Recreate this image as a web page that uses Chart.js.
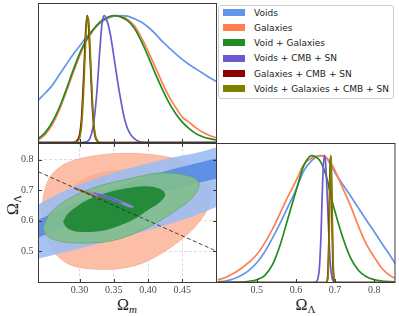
<!DOCTYPE html>
<html><head><meta charset="utf-8">
<script src="https://cdn.jsdelivr.net/npm/chart.js@4.4.1/dist/chart.umd.min.js"></script>
<style>
html,body{margin:0;padding:0;background:#fff;}
#wrap{position:relative;width:399px;height:316px;overflow:hidden;background:#fff;}
canvas{position:absolute;left:0;top:0;}
.lbl{position:absolute;font-family:'Liberation Serif','DejaVu Serif',serif;font-size:16px;line-height:16px;color:#222;white-space:nowrap;}
.lbl sub{font-size:11px;line-height:0;vertical-align:-3px;}
#legend{position:absolute;left:218px;top:5px;width:174px;height:92px;border:1px solid #cccccc;border-radius:3px;background:#fff;z-index:5;}
.patch{position:absolute;left:4px;width:22px;height:7px;}
.txt{position:absolute;left:35px;font-family:'DejaVu Sans',sans-serif;font-size:9px;line-height:10px;color:#222;white-space:nowrap;}
</style></head>
<body>
<div id="wrap">
  <div id="legend"></div>
  <div class="lbl" id="xlabM" style="left:127px;top:296.5px;transform:translateX(-50%);">Ω<sub><i>m</i></sub></div>
  <div class="lbl" id="xlabL" style="left:305.5px;top:296.5px;transform:translateX(-50%);">Ω<sub>Λ</sub></div>
  <div class="lbl" id="ylabL" style="left:12.5px;top:205px;transform:translate(-50%,-50%) rotate(-90deg);">Ω<sub>Λ</sub></div>
</div>
<script>
// ---------------- DATA ----------------
const seriesNames = ['Voids','Galaxies','Void + Galaxies','Voids + CMB + SN','Galaxies + CMB + SN','Voids + Galaxies + CMB + SN'];

const omegaMTicks = [0.30, 0.35, 0.40, 0.45];
const omegaMTickLabels = ['0.30', '0.35', '0.40', '0.45'];
const omegaLTicks = [0.5, 0.6, 0.7, 0.8];
const omegaLTickLabels = ['0.5', '0.6', '0.7', '0.8'];

// 1D marginal of Omega_m (normalised to peak = 1)
const omegaMGrid = [0.24,0.25,0.26,0.27,0.28,0.29,0.30,0.31,0.32,0.33,0.34,0.35,0.36,0.37,0.38,0.39,0.40,0.41,0.42,0.43,0.44,0.45,0.46,0.47,0.48,0.49,0.50];
const voidsPdfOmegaM = [0.336,0.39,0.45,0.53,0.61,0.69,0.76,0.83,0.89,0.94,0.975,0.995,1.0,0.995,0.975,0.95,0.91,0.86,0.80,0.75,0.70,0.655,0.615,0.58,0.545,0.51,0.48];
const galaxiesPdfOmegaM = [0.02,0.065,0.14,0.25,0.39,0.54,0.68,0.80,0.885,0.945,0.98,0.998,0.995,0.97,0.92,0.83,0.72,0.60,0.48,0.37,0.28,0.20,0.16,0.115,0.08,0.055,0.038];
const voidGalPdfOmegaM = [0.03,0.08,0.16,0.27,0.41,0.56,0.70,0.81,0.89,0.95,0.985,1.0,0.99,0.96,0.90,0.80,0.68,0.55,0.43,0.32,0.23,0.16,0.11,0.07,0.045,0.03,0.02];
const voidsCmbGridOmegaM = [0.24,0.30,0.31,0.315,0.32,0.325,0.33,0.333,0.336,0.34,0.345,0.35,0.355,0.36,0.365,0.37,0.375,0.38,0.385,0.39,0.40,0.50];
const voidsCmbPdfOmegaM = [0,0,0.005,0.03,0.13,0.38,0.76,0.95,1.0,0.96,0.85,0.68,0.50,0.34,0.20,0.11,0.06,0.03,0.012,0.004,0,0];
const cmbGridOmegaM = [0.24,0.29,0.295,0.30,0.303,0.306,0.309,0.311,0.313,0.316,0.319,0.322,0.326,0.33,0.50];
const galCmbPdfOmegaM = [0,0,0.01,0.06,0.2,0.52,0.88,1.0,0.93,0.6,0.25,0.07,0.01,0,0];
const allCmbPdfOmegaM = [0,0,0.005,0.035,0.14,0.42,0.82,0.99,0.97,0.66,0.3,0.09,0.015,0,0];

// 1D marginal of Omega_Lambda
const omegaLGrid = [0.40,0.42,0.44,0.46,0.48,0.50,0.52,0.54,0.56,0.58,0.60,0.62,0.64,0.65,0.66,0.67,0.68,0.69,0.70,0.72,0.74,0.76,0.78,0.80,0.82,0.84,0.86];
const voidsPdfOmegaL = [0.005,0.012,0.028,0.055,0.095,0.155,0.24,0.35,0.47,0.60,0.73,0.88,0.96,0.985,0.998,1.0,0.975,0.92,0.865,0.77,0.68,0.585,0.49,0.40,0.305,0.215,0.12];
const galaxiesPdfOmegaL = [0.02,0.04,0.07,0.11,0.16,0.22,0.31,0.42,0.55,0.68,0.80,0.93,0.98,0.993,1.0,0.998,0.975,0.94,0.88,0.74,0.60,0.44,0.30,0.20,0.11,0.055,0.025];
const voidGalPdfOmegaL = [0,0.001,0.002,0.004,0.01,0.022,0.055,0.14,0.30,0.51,0.72,0.92,1.0,0.99,0.965,0.905,0.81,0.67,0.555,0.35,0.19,0.095,0.045,0.022,0.012,0.007,0.004];
const voidsCmbGridOmegaL = [0.40,0.645,0.652,0.656,0.66,0.664,0.668,0.672,0.675,0.678,0.682,0.686,0.69,0.694,0.698,0.705,0.86];
const voidsCmbPdfOmegaL = [0,0,0.005,0.03,0.12,0.38,0.78,1.0,0.97,0.82,0.52,0.24,0.08,0.02,0.004,0,0];
const cmbGridOmegaL = [0.40,0.676,0.680,0.682,0.684,0.686,0.688,0.689,0.690,0.692,0.694,0.696,0.698,0.702,0.86];
const galCmbPdfOmegaL = [0,0,0.02,0.09,0.33,0.73,0.99,0.98,0.88,0.52,0.2,0.05,0.01,0,0];
const allCmbPdfOmegaL = [0,0,0.01,0.05,0.22,0.6,0.95,1.0,0.96,0.68,0.3,0.08,0.015,0,0];

// 2D contours (Omega_m, Omega_Lambda) outlines
const galaxiesOuterOmegaM = [0.245,0.247,0.252,0.262,0.275,0.290,0.310,0.335,0.360,0.385,0.410,0.435,0.460,0.478,0.488,0.492,0.490,0.482,0.468,0.450,0.430,0.400,0.370,0.340,0.310,0.287,0.268,0.255,0.248];
const galaxiesOuterOmegaL = [0.640,0.600,0.550,0.500,0.470,0.452,0.443,0.440,0.443,0.455,0.480,0.515,0.560,0.605,0.645,0.680,0.720,0.750,0.775,0.795,0.808,0.818,0.821,0.818,0.808,0.794,0.770,0.735,0.690];
const galaxiesInnerOmegaM = [0.270,0.280,0.300,0.330,0.370,0.410,0.440,0.455,0.455,0.440,0.410,0.375,0.340,0.300,0.280,0.272];
const galaxiesInnerOmegaL = [0.630,0.685,0.728,0.758,0.768,0.762,0.740,0.705,0.660,0.620,0.585,0.555,0.540,0.545,0.565,0.595];
const voidsOuterOmegaM = [0.23,0.24,0.28,0.33,0.38,0.43,0.476,0.50,0.52,0.52,0.50,0.47,0.43,0.38,0.33,0.28,0.24,0.23];
const voidsOuterOmegaL = [0.640,0.654,0.700,0.743,0.776,0.804,0.825,0.841,0.852,0.660,0.645,0.618,0.588,0.556,0.526,0.497,0.476,0.472];
const voidsInnerOmegaM = [0.23,0.24,0.28,0.33,0.38,0.43,0.47,0.50,0.52,0.52,0.50,0.47,0.43,0.38,0.33,0.28,0.24,0.23];
const voidsInnerOmegaL = [0.592,0.603,0.645,0.690,0.730,0.765,0.788,0.805,0.815,0.745,0.737,0.722,0.698,0.662,0.622,0.580,0.545,0.537];
const voidGalOuterOmegaM = [0.247,0.252,0.262,0.278,0.296,0.315,0.335,0.360,0.390,0.416,0.445,0.465,0.474,0.473,0.465,0.450,0.430,0.410,0.390,0.370,0.345,0.320,0.290,0.268,0.255,0.249];
const voidGalOuterOmegaL = [0.575,0.605,0.636,0.663,0.685,0.703,0.718,0.731,0.746,0.756,0.753,0.742,0.725,0.705,0.676,0.648,0.618,0.590,0.568,0.549,0.533,0.527,0.527,0.534,0.546,0.560];
const voidGalInnerOmegaM = [0.276,0.282,0.295,0.311,0.335,0.369,0.397,0.416,0.425,0.418,0.400,0.380,0.360,0.335,0.310,0.290,0.280];
const voidGalInnerOmegaL = [0.597,0.620,0.645,0.667,0.688,0.706,0.713,0.705,0.687,0.662,0.635,0.605,0.585,0.568,0.563,0.567,0.580];
const voidsCmbOuterOmegaM = [0.314,0.325,0.340,0.355,0.368,0.377,0.379,0.376,0.366,0.352,0.338,0.324,0.315,0.312];
const voidsCmbOuterOmegaL = [0.698,0.692,0.682,0.670,0.658,0.649,0.645,0.642,0.650,0.662,0.674,0.685,0.692,0.696];
const voidsCmbInnerOmegaM = [0.322,0.335,0.350,0.362,0.364,0.360,0.348,0.334,0.323,0.320];
const voidsCmbInnerOmegaL = [0.692,0.684,0.672,0.661,0.658,0.657,0.667,0.678,0.687,0.690];
const galCmbOuterOmegaM = [0.294,0.305,0.315,0.325,0.331,0.332,0.329,0.320,0.310,0.300,0.293,0.292];
const galCmbOuterOmegaL = [0.708,0.700,0.691,0.681,0.676,0.673,0.671,0.679,0.688,0.697,0.703,0.706];
const allCmbOuterOmegaM = [0.297,0.306,0.315,0.324,0.328,0.329,0.326,0.318,0.309,0.300,0.296,0.295];
const allCmbOuterOmegaL = [0.706,0.698,0.690,0.681,0.677,0.675,0.673,0.680,0.688,0.696,0.701,0.704];
const cmbInnerOmegaM = [0.302,0.311,0.320,0.321,0.312,0.303,0.301];
const cmbInnerOmegaL = [0.701,0.692,0.683,0.681,0.689,0.698,0.700];
// flat universe line
const flatOmegaM = [0.24, 0.50];
const flatOmegaL = [0.76, 0.50];

// ---------------- STYLE ----------------
const lineColors = ['#6495ED','#FF7F50','#228B22','#6A5ACD','#8B0000','#808000'];
const W = 399, H = 316;
const OM_MIN = 0.24, OM_MAX = 0.50, OL_MIN = 0.397, OL_MAX = 0.853, PDF_MAX = 1.095;
const tickFont = {family: "'Liberation Serif','DejaVu Serif',serif", size: 10};
const tickColor = '#4a4a4a';

function pts(xs, ys) { return xs.map((x, i) => ({x: x, y: ys[i]})); }
function closed(xs, ys) { const p = pts(xs, ys); p.push({x: xs[0], y: ys[0]}); return p; }

function makeCanvas() {
  const c = document.createElement('canvas');
  c.width = W; c.height = H;
  c.style.width = W + 'px'; c.style.height = H + 'px';
  document.getElementById('wrap').appendChild(c);
  return c;
}

function framePlugin(cfg) {
  return {
    id: 'frame',
    afterDatasetsDraw(chart) {
      const {ctx, chartArea: a, scales} = chart;
      const L = 3.5;
      ctx.save();
      ctx.strokeStyle = '#3a3a3a';
      ctx.lineWidth = 1;
      ctx.beginPath();
      (cfg.xTicks || []).forEach(v => {
        const p = Math.round(scales.x.getPixelForValue(v)) + 0.5;
        if (cfg.bottom) { ctx.moveTo(p, a.bottom); ctx.lineTo(p, a.bottom - L); }
        if (cfg.top) { ctx.moveTo(p, a.top); ctx.lineTo(p, a.top + L); }
      });
      (cfg.yTicks || []).forEach(v => {
        const p = Math.round(scales.y.getPixelForValue(v)) + 0.5;
        if (cfg.left) { ctx.moveTo(a.left, p); ctx.lineTo(a.left + L, p); }
        if (cfg.right) { ctx.moveTo(a.right, p); ctx.lineTo(a.right - L, p); }
      });
      ctx.stroke();
      ctx.strokeRect(a.left, a.top, a.right - a.left, a.bottom - a.top);
      ctx.restore();
    }
  };
}

function baseOptions(padding) {
  return {
    responsive: false, animation: false, devicePixelRatio: 1,
    layout: {padding: padding},
    plugins: {legend: {display: false}, tooltip: {enabled: false}},
    events: []
  };
}

function pdfLine(xs, ys, color, i, n) {
  return {data: pts(xs, ys), showLine: true, borderColor: color, borderWidth: 1.7,
          pointRadius: 0, fill: false, cubicInterpolationMode: 'monotone', order: n - i};
}

// ---------------- PANEL 1 : P(Omega_m) ----------------
(function () {
  const sets = [
    [omegaMGrid, voidsPdfOmegaM], [omegaMGrid, galaxiesPdfOmegaM], [omegaMGrid, voidGalPdfOmegaM],
    [voidsCmbGridOmegaM, voidsCmbPdfOmegaM], [cmbGridOmegaM, galCmbPdfOmegaM], [cmbGridOmegaM, allCmbPdfOmegaM]
  ];
  const opts = baseOptions({left: 38.5, top: 3.5, right: W - 216.5, bottom: H - 142.5});
  opts.scales = {
    x: {type: 'linear', min: OM_MIN, max: OM_MAX, display: false},
    y: {type: 'linear', min: 0, max: PDF_MAX, display: false}
  };
  new Chart(makeCanvas(), {
    type: 'scatter',
    data: {datasets: sets.map((s, i) => pdfLine(s[0], s[1], lineColors[i], i, sets.length))},
    options: opts,
    plugins: [framePlugin({xTicks: omegaMTicks, bottom: true})]
  });
})();

// ---------------- PANEL 2 : 2D contours ----------------
(function () {
  const shapes = [
    [galaxiesOuterOmegaM, galaxiesOuterOmegaL, '#fcbea6', 'rgba(240,140,110,0.55)', 0.4],
    [galaxiesInnerOmegaM, galaxiesInnerOmegaL, '#faae92', 'rgba(0,0,0,0)', 0.4],
    [voidsOuterOmegaM, voidsOuterOmegaL, 'rgba(156,188,242,0.9)', 'rgba(0,0,0,0)', 0.3],
    [voidsInnerOmegaM, voidsInnerOmegaL, 'rgba(93,140,230,0.96)', 'rgba(0,0,0,0)', 0.3],
    [voidGalOuterOmegaM, voidGalOuterOmegaL, 'rgba(130,190,140,0.9)', 'rgba(95,165,105,0.9)', 0.4],
    [voidGalInnerOmegaM, voidGalInnerOmegaL, '#258a3a', 'rgba(0,0,0,0)', 0.4],
    [galCmbOuterOmegaM, galCmbOuterOmegaL, 'rgba(165,85,60,0.9)', 'rgba(0,0,0,0)', 0.4],
    [voidsCmbOuterOmegaM, voidsCmbOuterOmegaL, 'rgba(150,140,228,0.95)', 'rgba(0,0,0,0)', 0.4],
    [voidsCmbInnerOmegaM, voidsCmbInnerOmegaL, '#6a5acd', 'rgba(0,0,0,0)', 0.4],
    [allCmbOuterOmegaM, allCmbOuterOmegaL, 'rgba(150,130,50,0.85)', 'rgba(0,0,0,0)', 0.4],
    [cmbInnerOmegaM, cmbInnerOmegaL, '#6e5a14', 'rgba(0,0,0,0)', 0.4]
  ];
  const n = shapes.length + 1;
  const datasets = shapes.map((s, i) => ({
    data: closed(s[0], s[1]), showLine: true, backgroundColor: s[2], borderColor: s[3],
    borderWidth: 0.8, pointRadius: 0, fill: 'shape', tension: s[4], order: n - i
  }));
  datasets.push({data: pts(flatOmegaM, flatOmegaL), showLine: true, borderColor: 'rgba(40,40,40,0.85)',
    borderWidth: 1, borderDash: [4, 2.5], pointRadius: 0, fill: false, order: 0});
  const opts = baseOptions({left: 0, top: 143.5, right: W - 216.5, bottom: 0});
  opts.scales = {
    x: {type: 'linear', position: 'bottom', min: OM_MIN, max: OM_MAX,
        afterBuildTicks: s => { s.ticks = omegaMTicks.map(v => ({value: v})); },
        afterFit: s => { s.height = H - 282.5; },
        ticks: {callback: (v, i) => omegaMTickLabels[i], font: tickFont, color: tickColor, padding: 1.5, maxRotation: 0, autoSkip: false},
        grid: {color: '#d4d4d4', lineWidth: 0.8, drawTicks: false},
        border: {display: false, dash: [3, 2]}},
    y: {type: 'linear', position: 'left', min: OL_MIN, max: OL_MAX,
        afterBuildTicks: s => { s.ticks = omegaLTicks.map(v => ({value: v})); },
        afterFit: s => { s.width = 38.5; },
        ticks: {callback: (v, i) => omegaLTickLabels[i], font: tickFont, color: tickColor, padding: 5, autoSkip: false},
        grid: {color: '#d4d4d4', lineWidth: 0.8, drawTicks: false},
        border: {display: false, dash: [3, 2]}}
  };
  new Chart(makeCanvas(), {
    type: 'scatter',
    data: {datasets: datasets},
    options: opts,
    plugins: [framePlugin({xTicks: omegaMTicks, yTicks: omegaLTicks, bottom: true, top: true, left: true, right: true})]
  });
})();

// ---------------- PANEL 3 : P(Omega_Lambda) ----------------
(function () {
  const sets = [
    [omegaLGrid, voidsPdfOmegaL], [omegaLGrid, galaxiesPdfOmegaL], [omegaLGrid, voidGalPdfOmegaL],
    [voidsCmbGridOmegaL, voidsCmbPdfOmegaL], [cmbGridOmegaL, galCmbPdfOmegaL], [cmbGridOmegaL, allCmbPdfOmegaL]
  ];
  const opts = baseOptions({left: 216.5, top: 143.5, right: W - 395, bottom: 0});
  opts.scales = {
    x: {type: 'linear', position: 'bottom', min: OL_MIN, max: OL_MAX,
        afterBuildTicks: s => { s.ticks = omegaLTicks.map(v => ({value: v})); },
        afterFit: s => { s.height = H - 282.5; },
        ticks: {callback: (v, i) => omegaLTickLabels[i], font: tickFont, color: tickColor, padding: 1.5, maxRotation: 0, autoSkip: false},
        grid: {display: false, drawTicks: false},
        border: {display: false}},
    y: {type: 'linear', min: 0, max: PDF_MAX, display: false}
  };
  new Chart(makeCanvas(), {
    type: 'scatter',
    data: {datasets: sets.map((s, i) => pdfLine(s[0], s[1], lineColors[i], i, sets.length))},
    options: opts,
    plugins: [framePlugin({xTicks: omegaLTicks, bottom: true})]
  });
})();

// ---------------- LEGEND ----------------
(function () {
  const lg = document.getElementById('legend');
  const firstCenter = 6.7, step = 15.1;
  seriesNames.forEach((name, i) => {
    const c = firstCenter + i * step;
    const p = document.createElement('div');
    p.className = 'patch';
    p.style.top = (c - 3.5) + 'px';
    p.style.background = lineColors[i];
    lg.appendChild(p);
    const t = document.createElement('div');
    t.className = 'txt';
    t.style.top = (c - 4.6) + 'px';
    t.textContent = name;
    lg.appendChild(t);
  });
})();
</script>
</body></html>
